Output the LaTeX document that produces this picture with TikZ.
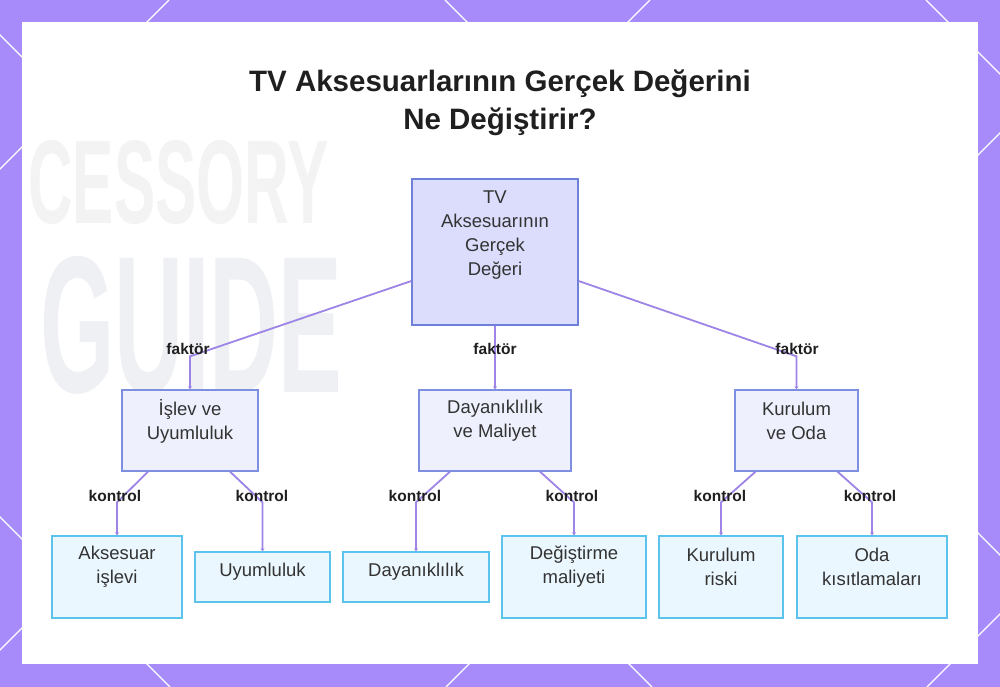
\documentclass[tikz,border=0pt]{standalone}
\usepackage{fontspec}
\setmainfont{Liberation Sans}
\usetikzlibrary{arrows.meta,calc}
\definecolor{bgpurple}{HTML}{A78BFA}
\definecolor{connc}{HTML}{9D84E6}
\definecolor{rootfill}{HTML}{DCDDFD}
\definecolor{rootdraw}{HTML}{6F80D8}
\definecolor{midfill}{HTML}{EEF1FD}
\definecolor{middraw}{HTML}{7F8FE0}
\definecolor{leaffill}{HTML}{EBF7FE}
\definecolor{leafdraw}{HTML}{5CC4EC}
\definecolor{txt}{HTML}{333333}
\definecolor{wm1}{HTML}{F3F3F3}
\definecolor{wm2}{HTML}{EEF0F4}
\begin{document}
\begin{tikzpicture}[x=1pt,y=-1pt,
  rootbox/.style={draw=rootdraw,fill=rootfill,line width=1.3pt,minimum width=166pt,minimum height=146pt,inner sep=0pt},
  midbox/.style={draw=middraw,fill=midfill,line width=1.3pt,minimum height=81pt,inner sep=0pt},
  leafbox/.style={draw=leafdraw,fill=leaffill,line width=1.3pt,inner sep=0pt},
  boxtext/.style={text=txt,font=\fontsize{18.5}{24}\selectfont,align=center,inner sep=0pt},
  lab/.style={text=black!88,font=\bfseries\fontsize{15.5}{17}\selectfont,inner sep=0pt},
  conn/.style={draw=connc,line width=1.8pt,-{Stealth[length=3pt,width=4pt]}},
]
\useasboundingbox (0,0) rectangle (1000,687);
\fill[bgpurple] (0,0) rectangle (1000,687);
\begin{scope}
\clip (0,0) rectangle (1000,687);
\foreach \c in {169,650,1133,1614} \draw[white,line width=1.3pt] (\c,0) -- (\c-687,687);
\foreach \d in {-517,-35,445,926} \draw[white,line width=1.3pt] (\d,0) -- (\d+687,687);
\end{scope}
\fill[white] (22,22) rectangle (978,664);
% faint background
\node[text=wm1,font=\bfseries\fontsize{119}{119}\selectfont,xscale=0.52,anchor=west,inner sep=0pt] (wmA) at (28,183) {CESSORY};
\node[text=wm2,font=\bfseries\fontsize{195}{195}\selectfont,xscale=0.49,anchor=west,inner sep=0pt] (wmB) at (40,325) {GUIDE};
% title
\node[text=black!88,font=\bfseries\fontsize{29.5}{38}\selectfont,align=center] (title) at (500,103) {TV Aksesuarlarının Gerçek Değerini\\Ne Değiştirir?};
% boxes
\node[rootbox] (root) at (495,252) {};
\node[boxtext] (rootT) at (495,235) {TV\\Aksesuarının\\Gerçek\\Değeri};
\node[midbox,minimum width=136pt] (n1) at (190,430.5) {};
\node[boxtext] (n1T) at (190,421) {İşlev ve\\Uyumluluk};
\node[midbox,minimum width=152pt] (n2) at (495,430.5) {};
\node[boxtext] (n2T) at (495,421) {Dayanıklılık\\ve Maliyet};
\node[midbox,minimum width=123pt] (n3) at (796.5,430.5) {};
\node[boxtext] (n3T) at (796.5,421) {Kurulum\\ve Oda};
\node[leafbox,minimum width=130pt,minimum height=82pt] (l1) at (117,577) {};
\node[boxtext] (l1T) at (117,567) {Aksesuar\\işlevi};
\node[leafbox,minimum width=135pt,minimum height=50pt] (l2) at (262.5,577) {};
\node[boxtext] (l2T) at (262.5,572) {Uyumluluk};
\node[leafbox,minimum width=146pt,minimum height=50pt] (l3) at (416,577) {};
\node[boxtext] (l3T) at (416,572) {Dayanıklılık};
\node[leafbox,minimum width=144pt,minimum height=82pt] (l4) at (574,577) {};
\node[boxtext] (l4T) at (574,567) {Değiştirme\\maliyeti};
\node[leafbox,minimum width=124pt,minimum height=82pt] (l5) at (721,577) {};
\node[boxtext] (l5T) at (721,567) {Kurulum\\riski};
\node[leafbox,minimum width=150pt,minimum height=82pt] (l6) at (872,577) {};
\node[boxtext] (l6T) at (872,567) {Oda\\kısıtlamaları};
% connectors
\draw[conn] ([yshift=-29pt]root.west) -- ([yshift=33pt]n1.north) -- (n1.north);
\draw[conn] (root.south) -- (n2.north);
\draw[conn] ([yshift=-29pt]root.east) -- ([yshift=33pt]n3.north) -- (n3.north);
\draw[conn] ([xshift=-42pt]n1.south) -- ([yshift=33pt]l1.north) -- (l1.north);
\draw[conn] ([xshift=40pt]n1.south) -- ([yshift=49pt]l2.north) -- (l2.north);
\draw[conn] ([xshift=-45pt]n2.south) -- ([yshift=49pt]l3.north) -- (l3.north);
\draw[conn] ([xshift=45pt]n2.south) -- ([yshift=33pt]l4.north) -- (l4.north);
\draw[conn] ([xshift=-41pt]n3.south) -- ([yshift=33pt]l5.north) -- (l5.north);
\draw[conn] ([xshift=41pt]n3.south) -- ([yshift=33pt]l6.north) -- (l6.north);
% labels
\node[lab] (f1) at (188,349) {faktör};
\node[lab] (f2) at (495,349) {faktör};
\node[lab] (f3) at (797,349) {faktör};
\node[lab] (k1) at (115,496) {kontrol};
\node[lab] (k2) at (262,496) {kontrol};
\node[lab] (k3) at (415,496) {kontrol};
\node[lab] (k4) at (572,496) {kontrol};
\node[lab] (k5) at (720,496) {kontrol};
\node[lab] (k6) at (870,496) {kontrol};
\end{tikzpicture}
\end{document}
